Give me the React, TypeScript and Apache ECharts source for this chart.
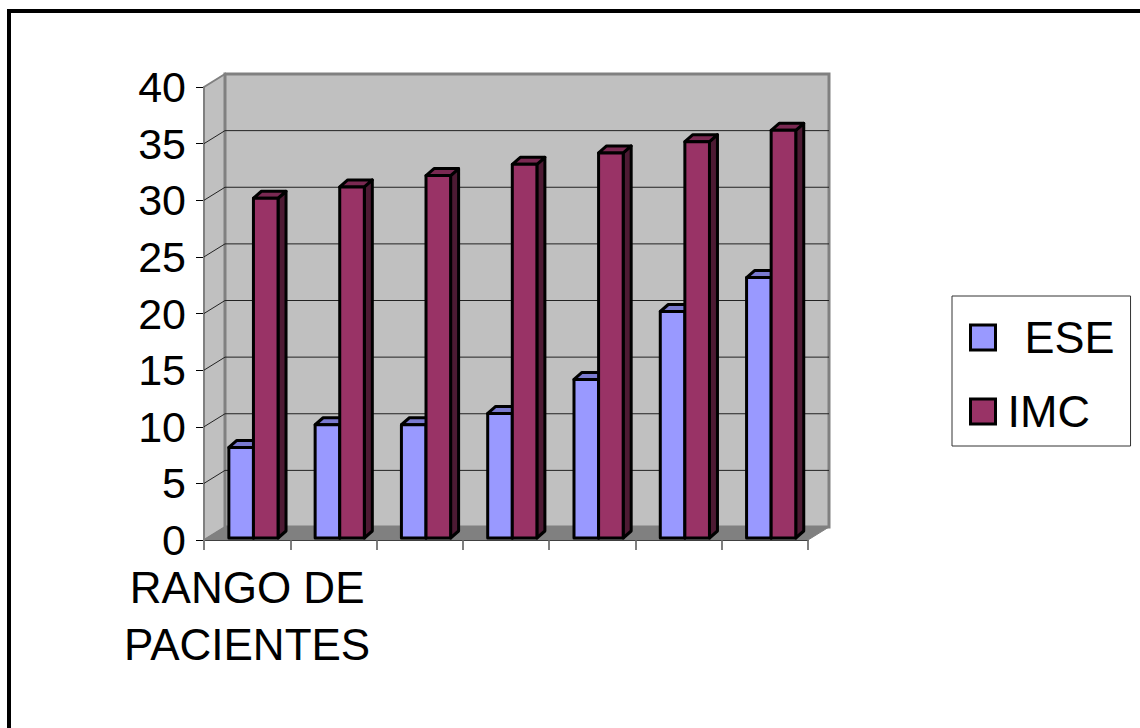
import React, { useEffect, useRef } from "react";
import * as echarts from "echarts";

const categories = ["RANGO DE\nPACIENTES", "", "", "", "", "", ""];
const eseValues = [8, 10, 10, 11, 14, 20, 23];
const imcValues = [30, 31, 32, 33, 34, 35, 36];
const yMin = 0;
const yMax = 40;
const yStep = 5;
const gridValues = [5, 10, 15, 20, 25, 30, 35];

const FONT = "'Liberation Sans', Arial, sans-serif";
const DX = 21; // wall depth
const DY = -13;
const BDX = 8; // bar depth
const BDY = -7;
const LIFT = 2;
const BAR_W = 0.285;

function barRenderer(color: string, topColor: string, sideColor: string, off: number) {
  return (params: any, api: any) => {
    const idx = api.value(0);
    const val = api.value(1);
    const top = api.coord([idx, val]);
    const base = api.coord([idx, 0]);
    const bw = api.size([1, 0])[0];
    const x0 = top[0] + off * bw;
    const x1 = x0 + BAR_W * bw;
    const yt = top[1] - LIFT;
    const yb = base[1] - LIFT;
    const stroke = { stroke: "#000", lineWidth: 3, lineJoin: "round" };
    return {
      type: "group",
      children: [
        {
          type: "polygon",
          shape: { points: [[x1, yt], [x1 + BDX, yt + BDY], [x1 + BDX, yb + BDY], [x1, yb]] },
          style: { fill: sideColor, ...stroke },
        },
        {
          type: "polygon",
          shape: { points: [[x0, yt], [x0 + BDX, yt + BDY], [x1 + BDX, yt + BDY], [x1, yt]] },
          style: { fill: topColor, ...stroke },
        },
        {
          type: "rect",
          shape: { x: x0, y: yt, width: x1 - x0, height: yb - yt },
          style: { fill: color, ...stroke },
        },
      ],
    };
  };
}

function wallsRenderer(params: any, api: any) {
  const cs = params.coordSys;
  const x = cs.x;
  const y = cs.y;
  const w = cs.width;
  const h = cs.height;
  const children: any[] = [
    {
      type: "polygon",
      shape: { points: [[x, y], [x + DX, y + DY], [x + DX, y + h + DY], [x, y + h]] },
      style: { fill: "#C0C0C0", stroke: "#808080", lineWidth: 2 },
    },
    {
      type: "rect",
      shape: { x: x + DX, y: y + DY, width: w, height: h },
      style: { fill: "#C0C0C0", stroke: "#808080", lineWidth: 3 },
    },
    {
      type: "polygon",
      shape: { points: [[x, y + h], [x + DX, y + h + DY], [x + w + DX, y + h + DY], [x + w, y + h]] },
      style: { fill: "#808080", stroke: "#808080", lineWidth: 1 },
    },
  ];
  gridValues.forEach((v) => {
    const yy = api.coord([0, v])[1];
    children.push({
      type: "line",
      shape: { x1: x + DX, y1: yy + DY, x2: x + w + DX, y2: yy + DY },
      style: { stroke: "#222", lineWidth: 1 },
    });
    children.push({
      type: "line",
      shape: { x1: x, y1: yy, x2: x + DX, y2: yy + DY },
      style: { stroke: "#222", lineWidth: 1 },
    });
  });
  return { type: "group", children };
}

export default function App() {
  const ref = useRef<HTMLDivElement>(null);
  useEffect(() => {
    if (!ref.current) return;
    const chart = echarts.init(ref.current, undefined, { renderer: "svg" });
    chart.setOption({
      animation: false,
      backgroundColor: "#fff",
      textStyle: { fontFamily: FONT },
      graphic: [
        {
          type: "rect",
          shape: { x: 9, y: 11, width: 1200, height: 800 },
          style: { fill: "none", stroke: "#000", lineWidth: 4 },
          z: 100,
        },
      ],
      legend: {
        orient: "vertical",
        left: 952,
        top: 296,
        padding: [19, 16, 12, 17],
        itemWidth: 25,
        itemHeight: 25,
        itemGap: 29,
        borderColor: "#333",
        borderWidth: 1,
        icon: "rect",
        itemStyle: { borderColor: "#000", borderWidth: 3 },
        textStyle: { fontSize: 45, color: "#000", fontFamily: FONT },
        data: [
          { name: "ESE", textStyle: { padding: [0, 0, 0, 24] } },
          { name: "IMC", textStyle: { padding: [0, 0, 0, 7] } },
        ],
      },
      grid: { left: 204, top: 87, width: 604, height: 453 },
      xAxis: {
        type: "category",
        data: categories,
        boundaryGap: true,
        axisLine: { show: true, lineStyle: { color: "#000", width: 1 } },
        axisTick: { show: true, length: 10, lineStyle: { color: "#555", width: 1.5 } },
        axisLabel: {
          interval: 0,
          fontSize: 44,
          lineHeight: 57,
          color: "#000",
          margin: 19,
          fontFamily: FONT,
        },
        splitLine: { show: false },
      },
      yAxis: {
        type: "value",
        min: yMin,
        max: yMax,
        interval: yStep,
        axisLine: { show: true, lineStyle: { color: "#666", width: 1.5 } },
        axisTick: { show: true, length: 8, lineStyle: { color: "#000", width: 1 } },
        axisLabel: { fontSize: 43, color: "#000", margin: 18, fontFamily: FONT },
        splitLine: { show: false },
      },
      series: [
        {
          type: "custom",
          name: "walls",
          renderItem: wallsRenderer,
          data: [[0, 0]],
          clip: false,
          silent: true,
          z: 1,
        },
        {
          type: "custom",
          name: "ESE",
          renderItem: barRenderer("#9999FF", "#7A7AD0", "#5E5EB0", -0.212),
          data: eseValues.map((v, i) => [i, v]),
          encode: { x: 0, y: 1 },
          itemStyle: { color: "#9999FF", borderColor: "#000", borderWidth: 3 },
          clip: false,
          z: 2,
        },
        {
          type: "custom",
          name: "IMC",
          renderItem: barRenderer("#993366", "#7A2952", "#4D1A33", 0.073),
          data: imcValues.map((v, i) => [i, v]),
          encode: { x: 0, y: 1 },
          itemStyle: { color: "#993366", borderColor: "#000", borderWidth: 3 },
          clip: false,
          z: 3,
        },
      ],
    });
    return () => chart.dispose();
  }, []);
  return (
    <div
      ref={ref}
      style={{ position: "fixed", left: 0, top: 0, width: 1140, height: 728, background: "#fff" }}
    />
  );
}
